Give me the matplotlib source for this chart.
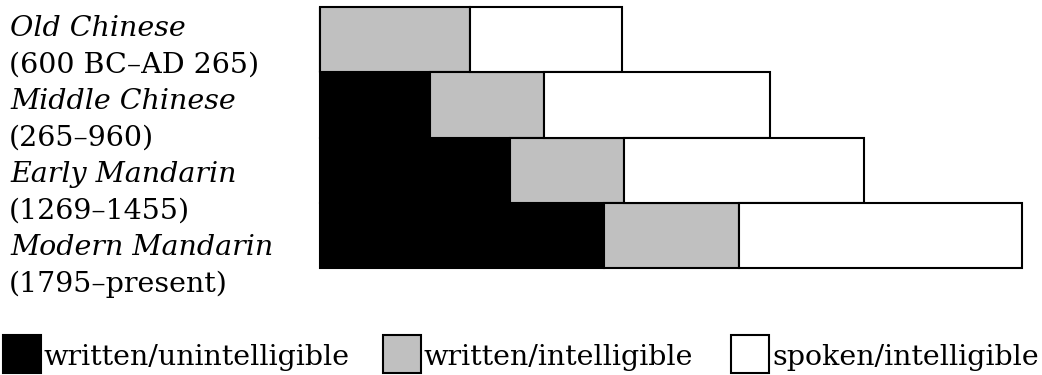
import matplotlib
matplotlib.use("Agg")
import matplotlib.pyplot as plt
from matplotlib.patches import Rectangle

# ---- data ----
periods = ["Old Chinese", "Middle Chinese", "Early Mandarin", "Modern Mandarin"]
years = ["(600 BC\u2013AD 265)", "(265\u2013960)", "(1269\u20131455)", "(1795\u2013present)"]
written_unintelligible = [0, 110, 190, 284]
written_intelligible = [150, 114, 114, 135]
spoken_intelligible = [152, 226, 240, 283]
legend_labels = ["written/unintelligible", "written/intelligible", "spoken/intelligible"]
colors = ["#000000", "#c0c0c0", "#ffffff"]

W, H = 1042, 375
fig = plt.figure(figsize=(W / 100, H / 100), dpi=100)

def fx(px):
    return px / W

def fy(py):
    return 1 - py / H

# bars axes
x0, x1, y0, y1 = 320, 1022, 7, 268
ax = fig.add_axes([fx(x0), fy(y1), fx(x1 - x0), (y1 - y0) / H])
rows = list(range(len(periods)))
left = [0] * len(periods)
for vals, c in zip([written_unintelligible, written_intelligible, spoken_intelligible], colors):
    ax.barh(rows, vals, left=left, height=1.0, color=c, edgecolor="black",
            linewidth=1.5, clip_on=False)
    left = [l + v for l, v in zip(left, vals)]
ax.set_xlim(0, x1 - x0)
ax.set_ylim(len(periods) - 0.5, -0.5)
ax.axis("off")

# left labels
serif = "DejaVu Serif"
base0, pitch = 36, 36.5
for i, (p, yr) in enumerate(zip(periods, years)):
    fig.text(fx(10), fy(base0 + pitch * 2 * i), p, fontsize=20.5, fontstyle="italic",
             family=serif, va="baseline", ha="left")
    fig.text(fx(9), fy(base0 + pitch * (2 * i + 1)), yr, fontsize=20.5,
             family=serif, va="baseline", ha="left")

# legend
box_x = [3, 383, 731]
box_w, box_top, box_h = 38, 335, 38
for bx, c, lab in zip(box_x, colors, legend_labels):
    fig.patches.append(Rectangle((fx(bx), fy(box_top + box_h)), box_w / W, box_h / H,
                                 transform=fig.transFigure, facecolor=c,
                                 edgecolor="black", linewidth=1.5))
    fig.text(fx(bx + box_w + 3), fy(365), lab, fontsize=20.5, family=serif,
             va="baseline", ha="left")

fig.savefig("out.png", dpi=100)
